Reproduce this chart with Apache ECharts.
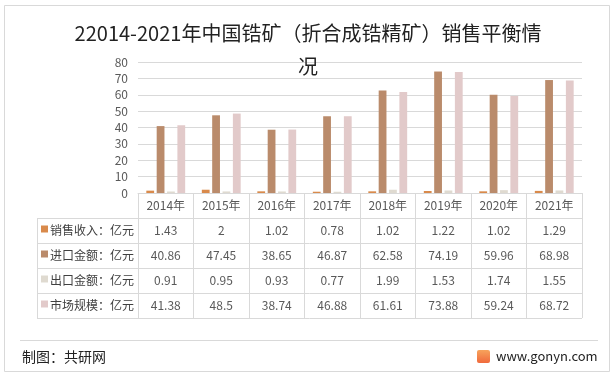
<!DOCTYPE html>
<html>
<head>
<meta charset="utf-8">
<script src="https://cdn.jsdelivr.net/npm/echarts@6/dist/echarts.min.js"></script>
<style>
html, body { margin: 0; padding: 0; background: #fff; }
#main { width: 616px; height: 378px; }
</style>
</head>
<body>
<div id="main"></div>
<script>
// 数据
var years = ['2014年', '2015年', '2016年', '2017年', '2018年', '2019年', '2020年', '2021年'];
var salesRevenue = [1.43, 2, 1.02, 0.78, 1.02, 1.22, 1.02, 1.29];
var importValue = [40.86, 47.45, 38.65, 46.87, 62.58, 74.19, 59.96, 68.98];
var exportValue = [0.91, 0.95, 0.93, 0.77, 1.99, 1.53, 1.74, 1.55];
var marketSize = [41.38, 48.5, 38.74, 46.88, 61.61, 73.88, 59.24, 68.72];
var seriesNames = ['销售收入：亿元', '进口金额：亿元', '出口金额：亿元', '市场规模：亿元'];
var seriesData = [salesRevenue, importValue, exportValue, marketSize];
var colors = ['#d98a4b', '#ba8b6b', '#dfdad0', '#e2caca'];

var FONT = '"Noto Sans CJK SC", "Noto Sans", sans-serif';
var gridLeft = 138, gridRight = 582, gridTop = 62, gridBottom = 193;
var rowH = 25, tableLeft = 37;
var lineColor = '#d9d9d9';

var chartDom = document.getElementById('main');
var myChart = echarts.init(chartDom);

// 表格线和图例
var graphics = [
    {
        type: 'rect',
        shape: { x: 4.5, y: 5.5, width: 605, height: 366 },
        style: { fill: 'none', stroke: '#d9d9d9', lineWidth: 1 }
    },
    {
        type: 'line',
        shape: { x1: tableLeft + 0.5, y1: gridBottom + rowH, x2: tableLeft + 0.5, y2: gridBottom + rowH * 5 },
        style: { stroke: lineColor, lineWidth: 1 }
    }
];
for (var r = 1; r <= 5; r++) {
    graphics.push({
        type: 'line',
        shape: { x1: tableLeft, y1: gridBottom + rowH * r + 0.5, x2: gridRight, y2: gridBottom + rowH * r + 0.5 },
        style: { stroke: lineColor, lineWidth: 1 }
    });
}
seriesNames.forEach(function (name, i) {
    var cy = gridBottom + rowH * (i + 1) + rowH / 2;
    graphics.push({
        type: 'rect',
        shape: { x: tableLeft + 4, y: cy - 5, width: 7, height: 7 },
        style: { fill: colors[i] }
    });
    graphics.push({
        type: 'text',
        x: tableLeft + 13,
        y: cy,
        style: { text: name, font: '12px ' + FONT, fill: '#404040', verticalAlign: 'middle' }
    });
});
// 页脚
graphics.push({
    type: 'line',
    shape: { x1: 20, y1: 340.5, x2: 598, y2: 340.5 },
    style: { stroke: '#d9d9d9', lineWidth: 1 }
});
graphics.push({
    type: 'text', x: 22, y: 357,
    style: { text: '制图：共研网', font: '14px ' + FONT, fill: '#222', verticalAlign: 'middle' }
});
graphics.push({
    type: 'rect',
    shape: { x: 477, y: 350, width: 13, height: 13, r: 2 },
    style: {
        fill: new echarts.graphic.LinearGradient(0, 0, 0, 1, [
            { offset: 0, color: '#f7a35c' },
            { offset: 1, color: '#f06a3c' }
        ])
    }
});
graphics.push({
    type: 'text', x: 496, y: 356,
    style: { text: 'www.gonyn.com', font: '13px ' + FONT, fill: '#222', verticalAlign: 'middle' }
});

var option = {
    animation: false,
    backgroundColor: '#fff',
    title: {
        text: '22014-2021年中国锆矿（折合成锆精矿）销售平衡情\n况',
        left: 'center',
        top: 12,
        textStyle: {
            fontFamily: FONT,
            fontSize: 20,
            fontWeight: 'normal',
            color: '#222',
            lineHeight: 33
        }
    },
    grid: {
        left: gridLeft,
        right: 616 - gridRight,
        top: gridTop,
        bottom: 378 - gridBottom,
        containLabel: false
    },
    xAxis: {
        type: 'category',
        data: years,
        axisLine: { lineStyle: { color: lineColor } },
        axisTick: { show: true, length: rowH * 5, lineStyle: { color: lineColor } },
        axisLabel: {
            interval: 0,
            margin: 0,
            lineHeight: rowH,
            fontFamily: FONT,
            fontSize: 12,
            color: '#595959',
            formatter: function (value, idx) {
                return [value].concat(seriesData.map(function (d) { return String(d[idx]); })).join('\n');
            }
        }
    },
    yAxis: {
        type: 'value',
        min: 0,
        max: 80,
        interval: 10,
        axisLine: { show: false },
        axisTick: { show: false },
        axisLabel: { fontFamily: FONT, fontSize: 12, color: '#595959', margin: 10 },
        splitLine: { lineStyle: { color: lineColor } }
    },
    series: seriesNames.map(function (name, i) {
        return {
            name: name,
            type: 'bar',
            data: seriesData[i],
            barGap: '33%',
            barCategoryGap: '30%',
            itemStyle: { color: colors[i] }
        };
    }),
    graphic: graphics
};

myChart.setOption(option);
window.addEventListener('resize', function () {
    myChart.resize();
});
</script>
</body>
</html>
